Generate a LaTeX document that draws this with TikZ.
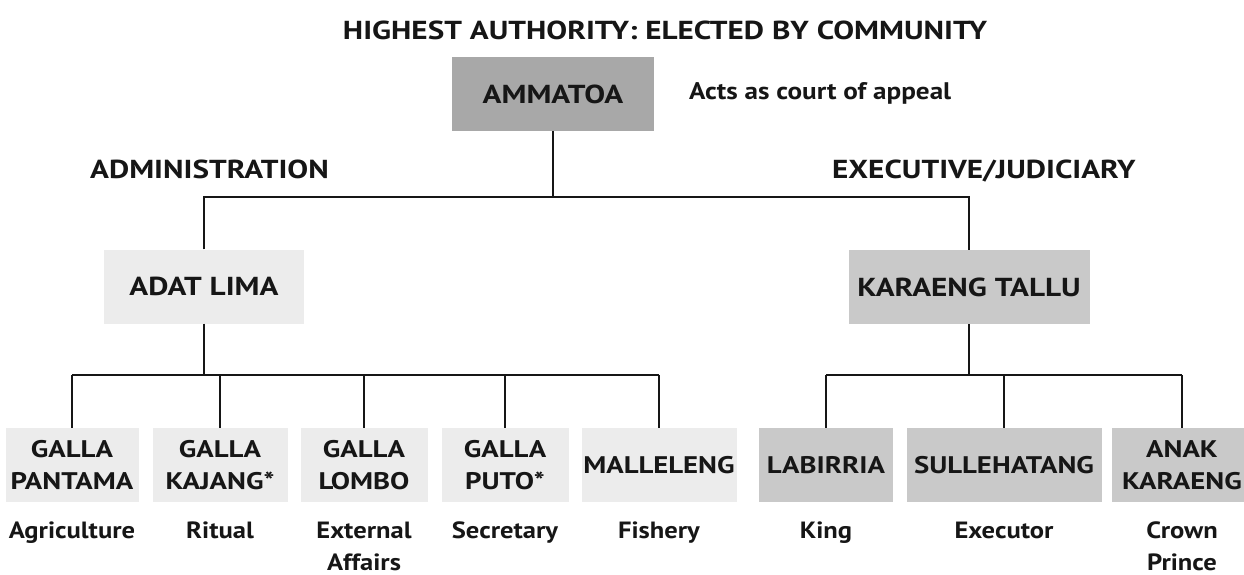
\documentclass[tikz,border=0pt]{standalone}
\usepackage{fontspec}
\setmainfont{PT Sans}[FakeStretch=1.2]
\newfontfamily\labfont{PT Sans}[FakeStretch=1.13]
\definecolor{boxdark}{RGB}{168,168,168}
\definecolor{boxmid}{RGB}{201,201,201}
\definecolor{boxlight}{RGB}{236,236,236}
\definecolor{ink}{RGB}{22,22,22}
\begin{document}
\begin{tikzpicture}[x=1pt,y=-1pt,
  every node/.style={text=ink, inner sep=0pt},
  orgbox/.style={rectangle, draw=none, align=center, minimum height=74pt,
    font=\fontsize{24}{32}\selectfont\bfseries},
  bigtext/.style={font=\fontsize{26}{32}\selectfont\bfseries},
  darkbox/.style={orgbox, fill=boxdark},
  midbox/.style={orgbox, fill=boxmid},
  lightbox/.style={orgbox, fill=boxlight},
  heading/.style={font=\fontsize{26}{30}\selectfont\bfseries},
  lab/.style={align=center, anchor=north, font=\labfont\fontsize{23.5}{32}\selectfont\bfseries},
  link/.style={draw=ink, line width=2pt}
]
\useasboundingbox (0,0) rectangle (1244,575);
\fill[white] (0,0) rectangle (1244,575);

% headings
\node[heading, anchor=base] (title) at (665,40) {HIGHEST AUTHORITY: ELECTED BY COMMUNITY};
\node[heading, anchor=base west] (admin) at (90,178) {ADMINISTRATION};
\node[heading, anchor=base west] (exec) at (832,178) {EXECUTIVE/JUDICIARY};

% top
\node[darkbox, bigtext, minimum width=202pt] (amm) at (553,94) {AMMATOA};
\node[anchor=base west, font=\labfont\fontsize{24}{28}\selectfont\bfseries] (appeal) at (689,100) {Acts as court of appeal};

% second level
\node[lightbox, bigtext, minimum width=200pt] (adat) at (204,286.5) {ADAT LIMA};
\node[midbox, bigtext, minimum width=241pt] (kt) at (969,287) {KARAENG TALLU};

% bottom level
\node[lightbox, minimum width=133pt] (b1) at (72,465) {GALLA\\PANTAMA};
\node[lightbox, minimum width=135pt] (b2) at (220,465) {GALLA\\KAJANG*};
\node[lightbox, minimum width=127pt] (b3) at (364,465) {GALLA\\LOMBO};
\node[lightbox, minimum width=127pt] (b4) at (505,465) {GALLA\\PUTO*};
\node[lightbox, minimum width=155pt] (b5) at (659,465) {MALLELENG};
\node[midbox, minimum width=134pt] (b6) at (826,465) {LABIRRIA};
\node[midbox, minimum width=195pt] (b7) at (1004,465) {SULLEHATANG};
\node[midbox, minimum width=140pt] (b8) at (1182,465) {ANAK\\KARAENG};

% labels
\node[lab] (l1) at (72,522) {Agriculture};
\node[lab] (l2) at (220,522) {Ritual};
\node[lab] (l3) at (364,522) {External\\Affairs};
\node[lab] (l4) at (505,522) {Secretary};
\node[lab] (l5) at (659,522) {Fishery};
\node[lab] (l6) at (826,522) {King};
\node[lab] (l7) at (1004,522) {Executor};
\node[lab] (l8) at (1182,522) {Crown\\Prince};

% connectors
\coordinate (topbus) at (553,197);
\coordinate (leftbus) at (204,375);
\coordinate (rightbus) at (969,375);
\draw[link] (amm.south) -- (topbus);
\draw[link] (adat.north) -- (adat.north |- topbus) -- (kt.north |- topbus) -- (kt.north);
\draw[link] (adat.south) -- (leftbus);
\draw[link] (kt.south) -- (rightbus);
\draw[link] (b1.north |- leftbus) -- (b5.north |- leftbus);
\draw[link] (b6.north |- rightbus) -- (b8.north |- rightbus);
\foreach \b in {b1,b2,b3,b4,b5}{\draw[link] (\b.north) -- (\b.north |- leftbus);}
\foreach \b in {b6,b7,b8}{\draw[link] (\b.north) -- (\b.north |- rightbus);}
\end{tikzpicture}
\end{document}
